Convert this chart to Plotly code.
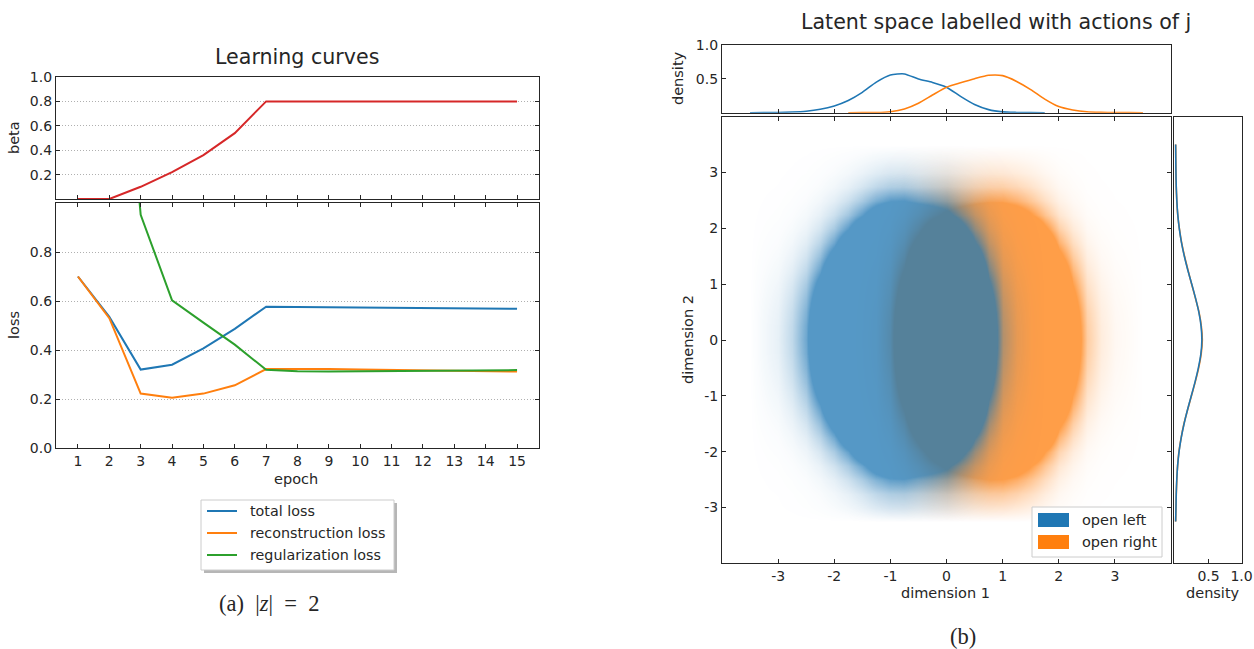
import numpy as np
import plotly.graph_objects as go

W, H = 1254, 649
FONT = "DejaVu Sans"
SERIF = "Liberation Serif"
INK = "#262626"

BLUE = "#1f77b4"
ORANGE = "#ff7f0e"
GREEN = "#2ca02c"
RED = "#d62728"

# ---------------- learning curves ----------------
epochs = [1, 2, 3, 4, 5, 6, 7, 8, 9, 10, 11, 12, 13, 14, 15]
beta = [0.0, 0.0, 0.10, 0.22, 0.36, 0.54, 0.80, 0.80, 0.80, 0.80, 0.80, 0.80, 0.80, 0.80, 0.80]
total_loss = [0.700, 0.535, 0.320, 0.340, 0.407, 0.486, 0.577, 0.576, 0.575, 0.574,
              0.574, 0.573, 0.571, 0.570, 0.568]
reconstruction_loss = [0.700, 0.530, 0.222, 0.205, 0.222, 0.256, 0.322, 0.323, 0.322, 0.320,
                       0.318, 0.317, 0.316, 0.314, 0.312]
regularization_loss = [6.0, 2.4, 0.952, 0.603, 0.512, 0.422, 0.319, 0.313, 0.312, 0.313,
                       0.314, 0.315, 0.316, 0.317, 0.318]
loss_names = ["total loss", "reconstruction loss", "regularization loss"]

beta_ticks = [0.2, 0.4, 0.6, 0.8, 1.0]
loss_ticks = [0.0, 0.2, 0.4, 0.6, 0.8]

# ---------------- latent space ----------------
# bin centres shared by both latent dimensions
dim_grid = [-4.0, -3.75, -3.5, -3.25, -3.0, -2.75, -2.5, -2.25, -2.0, -1.75, -1.5,
            -1.25, -1.0, -0.75, -0.5, -0.25, 0.0, 0.25, 0.5, 0.75, 1.0, 1.25,
            1.5, 1.75, 2.0, 2.25, 2.5, 2.75, 3.0, 3.25, 3.5, 3.75, 4.0]

# marginal density of dimension 1 per action
dim1_open_left = [None, None, 0.0, 0.002, 0.004, 0.010, 0.022, 0.050, 0.100, 0.180, 0.300,
                  0.450, 0.555, 0.570, 0.495, 0.445, 0.375, 0.240, 0.120, 0.045, 0.012, 0.004,
                  0.001, 0.0, None, None, None, None, None, None, None, None, None]
dim1_open_right = [None, None, None, None, None, None, None, None, None, 0.0, 0.001,
                   0.003, 0.015, 0.055, 0.140, 0.260, 0.375, 0.440, 0.500, 0.550, 0.545, 0.460,
                   0.340, 0.200, 0.090, 0.040, 0.013, 0.005, 0.002, 0.001, 0.0, None, None]

# marginal density of dimension 2 per action
dim2_open_left = [None, None, None, 0.0, 0.005, 0.009, 0.017, 0.030, 0.052, 0.085, 0.128,
                  0.180, 0.238, 0.295, 0.345, 0.383, 0.398, 0.386, 0.352, 0.302, 0.245, 0.185,
                  0.132, 0.088, 0.055, 0.032, 0.018, 0.009, 0.0045, 0.002, 0.0, None, None]
dim2_open_right = [None, None, None, 0.0, 0.005, 0.010, 0.018, 0.030, 0.050, 0.084, 0.126,
                   0.182, 0.240, 0.298, 0.350, 0.388, 0.405, 0.390, 0.355, 0.300, 0.243, 0.188,
                   0.135, 0.090, 0.056, 0.031, 0.017, 0.009, 0.0045, 0.002, 0.0, None, None]

action_names = ["open left", "open right"]
dim_ticks = [-3, -2, -1, 0, 1, 2, 3]
dim_ticktext = ["-3", "-2", "-1", "0", "1", "2", "3"]
density_ticks = [0.5, 1.0]


def px(x):
    return x / W


def py(y):
    return 1 - y / H


def as_array(vals):
    return np.array([0.0 if v is None else v for v in vals], dtype=float)


def cloud_scale(rgb, a_full=0.76, edge=0.045):
    # opacity follows point density and saturates inside the dense core
    stops = [0.0, 0.0005, 0.001, 0.002, 0.004, 0.007, 0.011, 0.016, 0.022,
             0.029, 0.037, 0.045, 1.0]
    out = []
    for s in stops:
        a = a_full * min(1.0, (s / edge) ** 1.05)
        out.append([s, "rgba(%d,%d,%d,%.3f)" % (rgb[0], rgb[1], rgb[2], a)])
    return out


fig = go.Figure()

# beta schedule
fig.add_trace(go.Scatter(x=epochs, y=beta, mode="lines", line=dict(color=RED, width=2),
                         xaxis="x", yaxis="y", showlegend=False, cliponaxis=False,
                         hoverinfo="skip"))

# loss curves
loss_colors = [BLUE, ORANGE, GREEN]
for name, vals, col in zip(loss_names, [total_loss, reconstruction_loss, regularization_loss],
                           loss_colors):
    fig.add_trace(go.Scatter(x=epochs, y=vals, mode="lines", name=name,
                             line=dict(color=col, width=2), xaxis="x2", yaxis="y2",
                             showlegend=False, hoverinfo="skip"))

# latent cloud: density of each action drawn as a heat layer
left_rgb = (31, 119, 180)
right_rgb = (255, 127, 14)
z_right = np.outer(as_array(dim2_open_right), as_array(dim1_open_right))
z_left = np.outer(as_array(dim2_open_left), as_array(dim1_open_left))
for z, rgb in [(z_right, right_rgb), (z_left, left_rgb)]:
    fig.add_trace(go.Heatmap(x=dim_grid, y=dim_grid, z=z, zmin=0, zmax=float(z.max()),
                             colorscale=cloud_scale(rgb), zsmooth="best", showscale=False,
                             hoverinfo="skip", xaxis="x4", yaxis="y4"))

# marginal densities
for vals, col in [(dim1_open_left, BLUE), (dim1_open_right, ORANGE)]:
    fig.add_trace(go.Scatter(x=dim_grid, y=vals, mode="lines",
                             line=dict(color=col, width=1.6, shape="spline", smoothing=0.6),
                             xaxis="x3", yaxis="y3", showlegend=False, hoverinfo="skip"))
for vals, col in [(dim2_open_right, ORANGE), (dim2_open_left, BLUE)]:
    fig.add_trace(go.Scatter(x=vals, y=dim_grid, mode="lines",
                             line=dict(color=col, width=1.6, shape="spline", smoothing=0.6),
                             xaxis="x5", yaxis="y5", showlegend=False, hoverinfo="skip"))

base_axis = dict(showline=True, linecolor=INK, linewidth=1.2, ticks="inside", ticklen=4,
                 tickwidth=1, tickcolor=INK, showgrid=False, zeroline=False, automargin=False,
                 tickfont=dict(family=FONT, size=14, color=INK), fixedrange=True)
grid = dict(showgrid=True, gridcolor="#b0b0b0", gridwidth=0.8, griddash="1px,2px")

left_x = [px(56), px(539)]
right_x = [px(722), px(1171)]
side_x = [px(1174), px(1241.5)]

fig.update_layout(
    xaxis=dict(base_axis, domain=left_x, anchor="y", range=[0.3, 15.7], tickvals=epochs,
               showticklabels=False, mirror=True),
    yaxis=dict(base_axis, **grid, domain=[py(199), py(77)], anchor="x", range=[0, 1.0],
               tickvals=beta_ticks, tickformat=".1f", mirror="ticks"),
    xaxis2=dict(base_axis, domain=left_x, anchor="y2", range=[0.3, 15.7], tickvals=epochs,
                mirror="ticks"),
    yaxis2=dict(base_axis, **grid, domain=[py(448), py(203)], anchor="x2", range=[0, 1.0],
                tickvals=loss_ticks, tickformat=".1f", mirror="ticks"),
    xaxis3=dict(base_axis, domain=right_x, anchor="y3", range=[-4, 4], tickvals=dim_ticks,
                showticklabels=False, mirror=True),
    yaxis3=dict(base_axis, domain=[py(112.7), py(44.7)], anchor="x3", range=[0, 1.0],
                tickvals=density_ticks, ticktext=["0.5", "1.0"], mirror=True),
    xaxis4=dict(base_axis, domain=right_x, anchor="y4", range=[-4, 4], tickvals=dim_ticks,
                ticktext=dim_ticktext, mirror="ticks"),
    yaxis4=dict(base_axis, domain=[py(563.3), py(116.7)], anchor="x4", range=[-4, 4],
                tickvals=dim_ticks, ticktext=dim_ticktext, mirror="ticks"),
    xaxis5=dict(base_axis, domain=side_x, anchor="y5", range=[-0.025, 1.0],
                tickvals=density_ticks, ticktext=["0.5", "1.0"], mirror=True),
    yaxis5=dict(base_axis, domain=[py(563.3), py(116.7)], anchor="x5", range=[-4, 4],
                ticks="", showticklabels=False, mirror=True),
)

ann = []


def label(text, x, y, size=14.5, angle=0, family=FONT, xanchor="center"):
    ann.append(dict(text=text, x=px(x), y=py(y), xref="paper", yref="paper",
                    showarrow=False, textangle=angle, xanchor=xanchor, yanchor="middle",
                    font=dict(family=family, size=size, color=INK)))


label("Learning curves", 297, 57, size=20.6)
label("Latent space labelled with actions of j", 996, 22, size=20.6)
label("beta", 14, 138, angle=-90)
label("loss", 14, 325, angle=-90)
label("epoch", 296, 479)
label("density", 678, 78, angle=-90)
label("dimension 2", 688, 340, angle=-90)
label("dimension 1", 945, 593)
label("density", 1213, 593)
label("(a)&nbsp;&nbsp;|<i>z</i>|&nbsp;&nbsp;=&nbsp;&nbsp;2", 269, 603, size=22.5, family=SERIF)
label("(b)", 963, 636, size=22.5, family=SERIF)

shapes = [
    # learning-curve legend: shadow, frame
    dict(type="rect", xref="paper", yref="paper", x0=px(204), x1=px(397), y0=py(573),
         y1=py(503), fillcolor="rgba(110,110,110,0.5)", line=dict(width=0), layer="above"),
    dict(type="rect", xref="paper", yref="paper", x0=px(201), x1=px(394), y0=py(570),
         y1=py(500), fillcolor="white", line=dict(color="#cccccc", width=1), layer="above"),
    # latent-space legend frame
    dict(type="rect", xref="paper", yref="paper", x0=px(1032), x1=px(1162), y0=py(557),
         y1=py(507), fillcolor="rgba(255,255,255,0.8)", line=dict(color="#cccccc", width=1),
         layer="above"),
]

# learning-curve legend entries
for i, (name, col) in enumerate(zip(loss_names, loss_colors)):
    yy = 511 + 22 * i
    shapes.append(dict(type="line", xref="paper", yref="paper", x0=px(207), x1=px(237),
                       y0=py(yy), y1=py(yy), line=dict(color=col, width=2), layer="above"))
    label(name, 248, yy, size=14.3, xanchor="left")

# latent-space legend entries
for i, (name, col) in enumerate(zip(action_names, [BLUE, ORANGE])):
    yc = 520 + 22 * i
    shapes.append(dict(type="rect", xref="paper", yref="paper", x0=px(1038), x1=px(1069),
                       y0=py(yc + 7), y1=py(yc - 7), fillcolor=col, line=dict(width=0),
                       layer="above"))
    label(name, 1080, yc, size=14.5, xanchor="left")

fig.update_layout(
    width=W, height=H, margin=dict(l=0, r=0, t=0, b=0),
    paper_bgcolor="white", plot_bgcolor="white", template="none",
    font=dict(family=FONT, size=14, color=INK),
    annotations=ann, shapes=shapes, showlegend=False,
)

fig.write_html("out.html", include_plotlyjs=True, config={"displayModeBar": False})
